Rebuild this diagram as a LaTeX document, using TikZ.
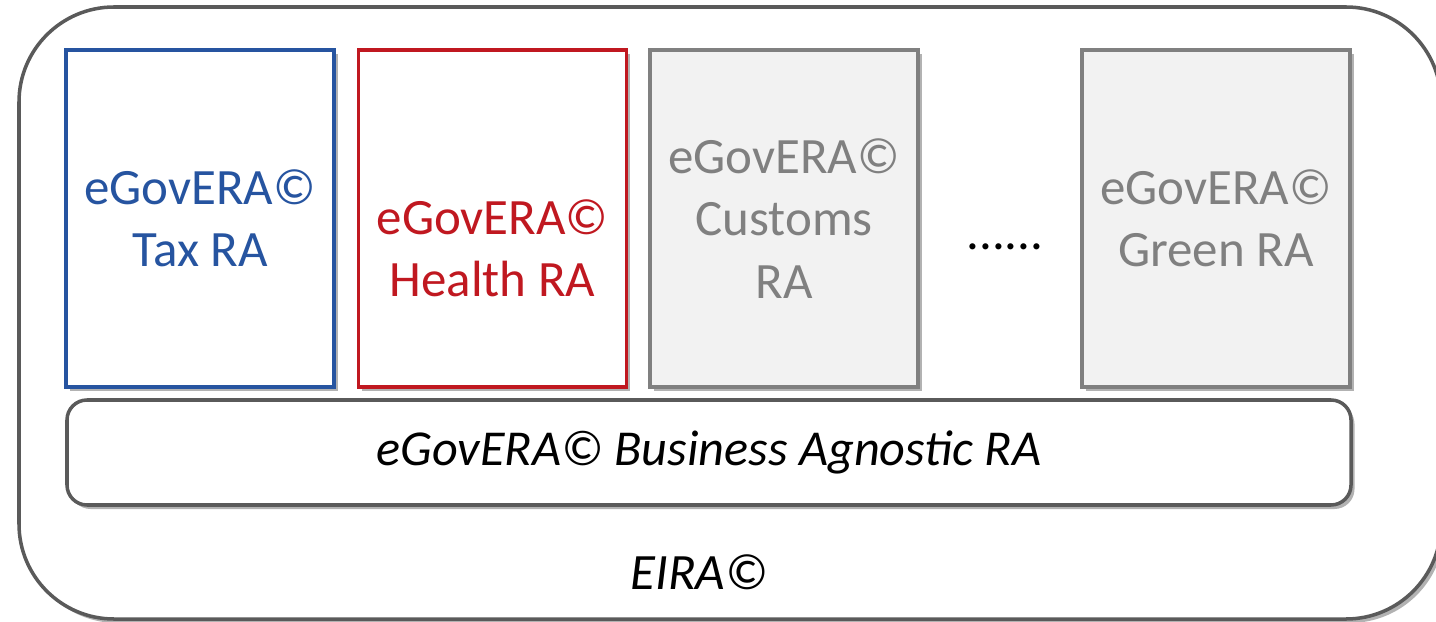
\documentclass[tikz,border=0pt]{standalone}
\usepackage{fontspec}
\setmainfont{Carlito}
\usepackage{tikz}
\usetikzlibrary{shadows}

\definecolor{taxblue}{RGB}{38,84,160}
\definecolor{healthred}{RGB}{192,24,32}
\definecolor{ragray}{RGB}{128,128,128}
\definecolor{rafill}{RGB}{242,242,242}
\definecolor{edgegray}{RGB}{90,90,90}

\tikzset{
	softshadow/.style={drop shadow={shadow xshift=0.035cm,shadow yshift=-0.04cm,opacity=0.3,fill=black}},
	rabox/.style={draw=#1,line width=1pt,fill=white,minimum width=2.68cm,minimum height=3.37cm,softshadow},
	grayrabox/.style={rabox=ragray,fill=rafill},
	ratext/.style={text=#1,align=center,font=\fontsize{14.5}{17.8}\selectfont},
}

\begin{document}
\begin{tikzpicture}
	\useasboundingbox (0,0) rectangle (14.36,-6.21);
	\node[draw=edgegray,line width=1pt,rounded corners=0.95cm,fill=white,minimum width=14.22cm,minimum height=6.12cm,softshadow](eira) at (7.30,-3.13) {};

	\node[rabox=taxblue](tax) at (2.00,-2.185) {};
	\node[rabox=healthred](health) at (4.925,-2.185) {};
	\node[grayrabox](customs) at (7.84,-2.185) {};
	\node[grayrabox](green) at (12.16,-2.185) {};

	\node[ratext=taxblue](taxlbl) at (tax) {eGovERA©\\Tax RA};
	\node[ratext=healthred](healthlbl) at ([yshift=-0.3cm]health.center) {eGovERA©\\Health RA};
	\node[ratext=ragray](customslbl) at (customs) {eGovERA©\\Customs\\RA};
	\node[ratext=ragray](greenlbl) at (green) {eGovERA©\\Green RA};
	\node[ratext=black](dots) at (10.05,-2.47) {......};

	\node[draw=edgegray,line width=1pt,rounded corners=0.2cm,fill=white,minimum width=12.84cm,minimum height=1.05cm,softshadow,ratext=black,font=\fontsize{14.3}{17.8}\selectfont\itshape](agnostic) at (7.09,-4.525) {eGovERA© Business Agnostic RA};

	\node[ratext=black,font=\fontsize{14.5}{17.8}\selectfont\itshape](eiralbl) at (6.99,-5.72) {EIRA©};
\end{tikzpicture}
\end{document}
